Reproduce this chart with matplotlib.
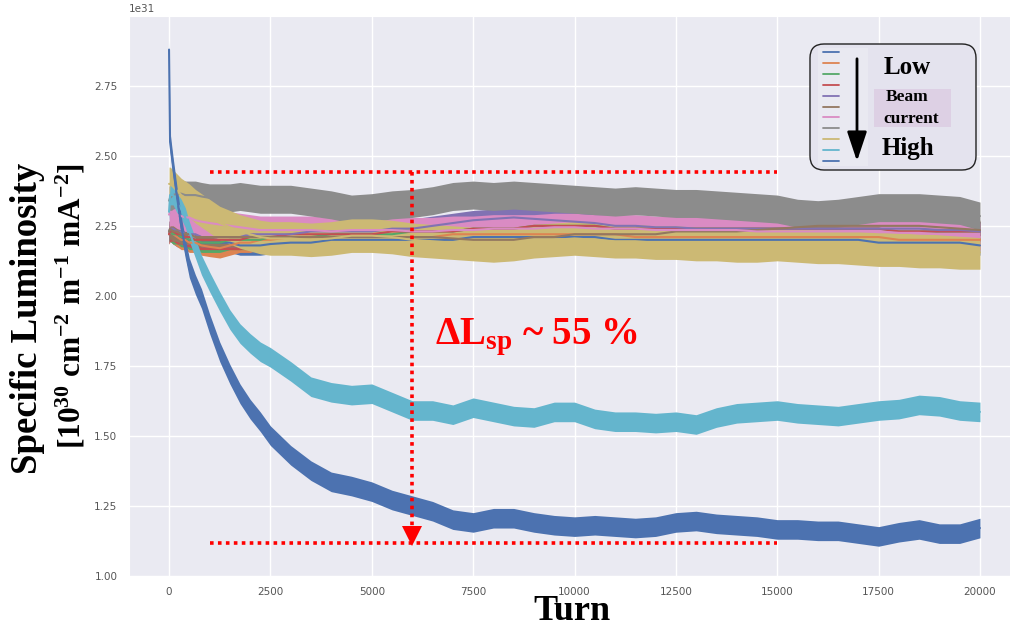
import numpy as np
import matplotlib.pyplot as plt
import seaborn as sns
from matplotlib.lines import Line2D
from matplotlib.patches import FancyBboxPatch, Rectangle, FancyArrowPatch

sns.set_style("darkgrid")
plt.rcParams["mathtext.fontset"] = "custom"
plt.rcParams["mathtext.rm"] = "Liberation Serif:bold"
plt.rcParams["mathtext.it"] = "Liberation Serif:bold"
plt.rcParams["mathtext.bf"] = "Liberation Serif:bold"

SCALE = 1e31

turns = [0, 25, 100, 200, 300, 400, 500, 650, 800, 1000,
         1250, 1500, 1750, 2000, 2250, 2500,
         3000, 3500, 4000, 4500, 5000, 5500, 6000, 6500, 7000, 7500,
         8000, 8500, 9000, 9500, 10000, 10500, 11000, 11500, 12000, 12500,
         13000, 13500, 14000, 14500, 15000, 15500, 16000, 16500, 17000, 17500,
         18000, 18500, 19000, 19500, 20000]

# specific luminosity (x1e31), lowest beam current first
lum_1 = [2.22, 2.23, 2.22, 2.21, 2.21, 2.20, 2.20, 2.20, 2.19, 2.19,
         2.19, 2.19, 2.18, 2.18, 2.18, 2.185,
         2.19, 2.19, 2.20, 2.20, 2.20, 2.20, 2.20, 2.20, 2.20, 2.21,
         2.21, 2.21, 2.21, 2.21, 2.21, 2.21, 2.20, 2.20, 2.20, 2.20,
         2.20, 2.20, 2.20, 2.20, 2.20, 2.20, 2.20, 2.20, 2.20, 2.19,
         2.19, 2.19, 2.19, 2.19, 2.18]
lum_2 = [2.22, 2.23, 2.22, 2.21, 2.20, 2.20, 2.19, 2.19, 2.18, 2.175,
         2.17, 2.18, 2.19, 2.19, 2.20, 2.20,
         2.21, 2.21, 2.21, 2.21, 2.21, 2.21, 2.21, 2.21, 2.22, 2.22,
         2.22, 2.22, 2.22, 2.22, 2.22, 2.22, 2.22, 2.21, 2.21, 2.21,
         2.21, 2.21, 2.21, 2.21, 2.21, 2.21, 2.21, 2.21, 2.21, 2.21,
         2.20, 2.20, 2.20, 2.20, 2.20]
lum_3 = [2.23, 2.23, 2.22, 2.22, 2.21, 2.21, 2.20, 2.20, 2.19, 2.19,
         2.19, 2.20, 2.20, 2.20, 2.20, 2.21,
         2.21, 2.21, 2.22, 2.22, 2.22, 2.22, 2.23, 2.23, 2.23, 2.24,
         2.24, 2.24, 2.25, 2.25, 2.25, 2.25, 2.24, 2.24, 2.24, 2.24,
         2.24, 2.24, 2.24, 2.24, 2.24, 2.24, 2.24, 2.24, 2.24, 2.24,
         2.23, 2.23, 2.23, 2.23, 2.23]
lum_4 = [2.22, 2.23, 2.23, 2.22, 2.22, 2.21, 2.21, 2.20, 2.20, 2.20,
         2.20, 2.20, 2.20, 2.21, 2.21, 2.21,
         2.22, 2.22, 2.22, 2.22, 2.22, 2.23, 2.23, 2.23, 2.23, 2.24,
         2.24, 2.24, 2.25, 2.25, 2.25, 2.25, 2.24, 2.24, 2.24, 2.24,
         2.24, 2.24, 2.24, 2.24, 2.24, 2.24, 2.24, 2.24, 2.24, 2.24,
         2.23, 2.23, 2.23, 2.23, 2.23]
lum_5 = [2.23, 2.24, 2.24, 2.23, 2.23, 2.22, 2.22, 2.22, 2.21, 2.21,
         2.21, 2.21, 2.21, 2.22, 2.22, 2.22,
         2.22, 2.23, 2.23, 2.23, 2.23, 2.24, 2.24, 2.25, 2.26, 2.27,
         2.275, 2.28, 2.275, 2.27, 2.265, 2.26, 2.25, 2.25, 2.245, 2.245,
         2.24, 2.24, 2.24, 2.24, 2.24, 2.24, 2.24, 2.24, 2.24, 2.24,
         2.24, 2.24, 2.235, 2.235, 2.23]
lum_6 = [2.23, 2.24, 2.23, 2.23, 2.22, 2.22, 2.22, 2.21, 2.21, 2.21,
         2.21, 2.21, 2.21, 2.21, 2.21, 2.21,
         2.21, 2.21, 2.21, 2.21, 2.21, 2.21, 2.21, 2.21, 2.205, 2.20,
         2.20, 2.20, 2.21, 2.21, 2.22, 2.22, 2.22, 2.22, 2.22, 2.23,
         2.23, 2.23, 2.23, 2.235, 2.24, 2.245, 2.25, 2.25, 2.25, 2.25,
         2.25, 2.25, 2.245, 2.24, 2.235]
lum_7 = [2.29, 2.30, 2.30, 2.29, 2.285, 2.28, 2.28, 2.27, 2.265, 2.26,
         2.255, 2.25, 2.245, 2.24, 2.235, 2.235,
         2.235, 2.235, 2.23, 2.235, 2.235, 2.235, 2.23, 2.23, 2.235, 2.235,
         2.24, 2.24, 2.24, 2.245, 2.245, 2.24, 2.24, 2.24, 2.235, 2.235,
         2.235, 2.235, 2.235, 2.23, 2.23, 2.23, 2.23, 2.23, 2.23, 2.23,
         2.225, 2.225, 2.22, 2.215, 2.21]
lum_8 = [2.34, 2.35, 2.36, 2.365, 2.365, 2.36, 2.36, 2.36, 2.355, 2.35,
         2.35, 2.35, 2.355, 2.35, 2.345, 2.345,
         2.345, 2.335, 2.325, 2.31, 2.315, 2.325, 2.33, 2.34, 2.355, 2.36,
         2.355, 2.36, 2.355, 2.35, 2.345, 2.34, 2.335, 2.34, 2.335, 2.33,
         2.33, 2.325, 2.32, 2.315, 2.31, 2.295, 2.29, 2.295, 2.305, 2.315,
         2.315, 2.315, 2.31, 2.305, 2.285]
lum_9 = [2.40, 2.40, 2.39, 2.375, 2.36, 2.35, 2.34, 2.32, 2.305, 2.285,
         2.26, 2.245, 2.23, 2.22, 2.21, 2.205,
         2.205, 2.20, 2.205, 2.215, 2.215, 2.21, 2.20, 2.195, 2.19, 2.185,
         2.18, 2.185, 2.195, 2.20, 2.205, 2.20, 2.195, 2.195, 2.19, 2.19,
         2.185, 2.185, 2.18, 2.18, 2.185, 2.18, 2.175, 2.175, 2.17, 2.165,
         2.165, 2.16, 2.16, 2.155, 2.155]
lum_10 = [2.30, 2.36, 2.36, 2.33, 2.31, 2.28, 2.23, 2.17, 2.11, 2.05,
          1.98, 1.915, 1.865, 1.83, 1.80, 1.78,
          1.73, 1.675, 1.655, 1.645, 1.65, 1.62, 1.59, 1.59, 1.575, 1.60,
          1.585, 1.57, 1.565, 1.585, 1.585, 1.56, 1.55, 1.55, 1.545, 1.55,
          1.54, 1.565, 1.58, 1.585, 1.59, 1.58, 1.575, 1.57, 1.58, 1.59,
          1.595, 1.61, 1.605, 1.59, 1.585]
lum_11 = [2.88, 2.55, 2.46, 2.35, 2.25, 2.17, 2.10, 2.04, 1.99, 1.90,
          1.80, 1.72, 1.65, 1.595, 1.55, 1.50,
          1.43, 1.375, 1.335, 1.32, 1.30, 1.27, 1.25, 1.23, 1.20, 1.19,
          1.205, 1.205, 1.19, 1.18, 1.175, 1.18, 1.175, 1.17, 1.175, 1.19,
          1.195, 1.185, 1.18, 1.175, 1.165, 1.165, 1.16, 1.16, 1.15, 1.14,
          1.155, 1.165, 1.15, 1.15, 1.17]

series = [lum_1, lum_2, lum_3, lum_4, lum_5, lum_6,
          lum_7, lum_8, lum_9, lum_10, lum_11]
# turn-by-turn jitter amplitude of each run (x1e31)
jitter = [0.035, 0.035, 0.035, 0.035, 0.035, 0.035,
          0.05, 0.05, 0.06, 0.035, 0.035]

lum_before = 2.443
lum_after = 1.118
x_ticks = [0, 2500, 5000, 7500, 10000, 12500, 15000, 17500, 20000]
y_ticks = [1.0, 1.25, 1.5, 1.75, 2.0, 2.25, 2.5, 2.75]

palette = sns.color_palette("deep", 10)
colors = [palette[i % 10] for i in range(len(series))]

W, H = 1010, 635
fig = plt.figure(figsize=(W / 100, H / 100), dpi=100)
ax = fig.add_axes([128.5 / W, 1 - 577 / H, 892 / W, 561 / H])

t = np.array(turns)
for lum, amp, c in zip(series, jitter, colors):
    y = np.array(lum)
    ax.fill_between(t, (y - amp) * SCALE, (y + amp) * SCALE, color=c, lw=0)
    ax.plot(t, y * SCALE, color=c, lw=1.5)

ax.set_xlim(-1000, 21000)
ax.set_ylim(0.995 * SCALE, 3.0 * SCALE)
ax.set_xticks(x_ticks, [str(v) for v in x_ticks])
ax.set_yticks([v * SCALE for v in y_ticks])
ax.tick_params(axis="both", labelsize=7.5, labelcolor="#555555", length=0)
ax.tick_params(axis="x", pad=7)
ax.tick_params(axis="y", pad=8)
ax.yaxis.get_offset_text().set_fontsize(7.5)
ax.yaxis.get_offset_text().set_color("#555555")
ax.grid(color="white", lw=1)

# luminosity drop markers
dots = (0, (1, 1.2))
ax.plot([1000, 15000], [lum_before * SCALE] * 2, color="red", lw=2.6, ls=dots)
ax.plot([1000, 15000], [lum_after * SCALE] * 2, color="red", lw=2.6, ls=dots)
ax.plot([6000, 6000], [lum_before * SCALE, 1.16 * SCALE],
        color="red", lw=2.6, ls=dots)
ax.plot([6000], [1.141 * SCALE], marker="v", ms=14, color="red", mew=0)
ax.text(6550, 1.85 * SCALE, "ΔL$_{sp}$ ~ 55 %", color="red", fontsize=28,
        family="Liberation Serif", weight="bold", ha="left", va="center")

serif = dict(family="Liberation Serif", weight="bold", color="black")


def P(x, y):
    return (x / 100, (H - y) / 100)


tr = fig.dpi_scale_trans
fig.text(*P(28, 318), "Specific Luminosity", transform=tr, rotation=90,
         ha="center", va="center", fontsize=26.5, **serif)
fig.text(*P(71, 306), r"[10$^{30}$ cm$^{-2}$ m$^{-1}$ mA$^{-2}$]",
         transform=tr, rotation=90, ha="center", va="center",
         fontsize=22.5, **serif)
fig.text(*P(572, 612), "Turn", transform=tr, ha="center", va="center",
         fontsize=26, **serif)

# beam current key
box = FancyBboxPatch(P(810, 170), 1.66, 1.26,
                     boxstyle="round,pad=0,rounding_size=0.14",
                     transform=tr, facecolor="#e4e3ee", edgecolor="#222222",
                     lw=1.0)
fig.add_artist(box)
fig.add_artist(Rectangle(P(818, 166), 0.5, 1.18, transform=tr,
                         facecolor="#e9e9f1", edgecolor="none"))
for i, c in enumerate(colors):
    yy = 52 + i * 10.9
    fig.add_artist(Line2D([8.23, 8.39], [(H - yy) / 100] * 2, color=c,
                          lw=1.3, transform=tr))
fig.add_artist(FancyArrowPatch(P(857, 56), P(857, 164), transform=tr,
                               arrowstyle="-|>,head_length=0.9,head_width=0.3",
                               mutation_scale=20, color="black", lw=2.0))
fig.add_artist(Rectangle(P(874, 127), 0.77, 0.38, transform=tr,
                         facecolor="#ddd0e4", edgecolor="none"))
fig.text(*P(907, 67), "Low", transform=tr, ha="center", va="center",
         fontsize=18, **serif)
fig.text(*P(907, 97), "Beam", transform=tr, ha="center", va="center",
         fontsize=12.5, **serif)
fig.text(*P(911, 119), "current", transform=tr, ha="center", va="center",
         fontsize=12.5, **serif)
fig.text(*P(908, 149), "High", transform=tr, ha="center", va="center",
         fontsize=18, **serif)

fig.savefig("out.png", dpi=100)
